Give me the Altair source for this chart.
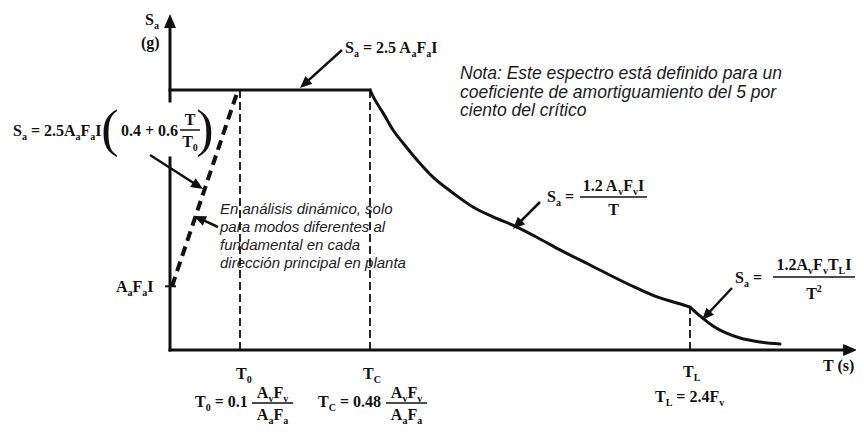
import math
import altair as alt
import pandas as pd

# ---------------- chart values (schematic design spectrum) ----------------
T0, TC, TL = 0.35, 1.00, 2.60          # corner periods (schematic units)
SA_PLATEAU = 1.00                       # 2.5 Aa Fa I
SA_START = 0.245                        # Aa Fa I
T_AXIS_END, SA_AXIS_END = 3.435, 1.292

# descending branch Sa = 1.2 Av Fv I / T
curve_T = [1.000, 1.025, 1.065, 1.115, 1.165, 1.235, 1.315, 1.415, 1.515,
           1.615, 1.735, 1.850, 1.950, 2.100, 2.300, 2.435, 2.585, 2.600]
curve_S = [1.000, 0.962, 0.912, 0.846, 0.796, 0.731, 0.665, 0.604, 0.550,
           0.512, 0.473, 0.427, 0.385, 0.327, 0.250, 0.204, 0.169, 0.165]
# long-period branch Sa = 1.2 Av Fv TL I / T^2
tail_T = [2.600, 2.650, 2.715, 2.850, 2.950, 3.050]
tail_S = [0.165, 0.131, 0.092, 0.046, 0.031, 0.023]

note_lines = ["Nota: Este espectro está definido para un",
              "coeficiente de amortiguamiento del 5 por",
              "ciento del crítico"]
dyn_lines = ["En análisis dinámico, solo",
             "para modos diferentes al",
             "fundamental en cada",
             "dirección principal en planta"]

INK = "#111111"

# ---------------- frame: page pixels <-> (T, Sa) ----------------
W, H, M = 848, 416, 8
PX_T, PX_S = 200.0, 260.0
X_ORG, Y_ORG = 170.0, 350.0
T_DOM = [(M - X_ORG) / PX_T, (M + W - X_ORG) / PX_T]
S_DOM = [(Y_ORG - M - H) / PX_S, (Y_ORG - M) / PX_S]


def tT(px):
    return (px - X_ORG) / PX_T


def tS(py):
    return (Y_ORG - py) / PX_S


def pxX(t):
    return X_ORG + t * PX_T


def pxY(s):
    return Y_ORG - s * PX_S


xs = alt.Scale(domain=T_DOM, nice=False, zero=False)
ys = alt.Scale(domain=S_DOM, nice=False, zero=False)

# ---------------- formula typesetting helpers ----------------
TB = {' ': 250, '(': 333, ')': 333, '+': 570, '.': 250, '=': 570, 'A': 722,
      'C': 722, 'F': 611, 'I': 389, 'L': 667, 'S': 556, 'T': 667, 'a': 500,
      'g': 500, 's': 389, 'v': 500}
FS, FSS = 16, 10
serif_rows = []


def tw(s, fs):
    return sum(TB.get(c, 500) for c in s) * fs / 1000.0


def pfs(r, fs):
    return fs if r == 'n' else FSS


def run_w(pieces, fs=FS):
    return sum(tw(t, pfs(r, fs)) for t, r in pieces)


def place(pieces, x, base, fs=FS):
    for t, r in pieces:
        f = pfs(r, fs)
        dy = {'n': 0, 's': 3.5, 'p': -7}[r]
        lead = len(t) - len(t.lstrip(' '))
        core = t.strip(' ')
        if core:
            serif_rows.append(dict(T=tT(x + tw(' ' * lead, f)), S=tS(base + dy),
                                   txt=core, fs=f))
        x += tw(t, f)
    return x


bars = []


def frac(num, den, cx, bar_y, num_base, den_base, x0, x1):
    place(num, cx - run_w(num) / 2, num_base)
    place(den, cx - run_w(den) / 2, den_base)
    bars.append(dict(T=tT(x0), S=tS(bar_y), T2=tT(x1), S2=tS(bar_y)))


AaFaI = [("A", 'n'), ("a", 's'), ("F", 'n'), ("a", 's'), ("I", 'n')]
AvFv = [("A", 'n'), ("v", 's'), ("F", 'n'), ("v", 's')]
AaFa = [("A", 'n'), ("a", 's'), ("F", 'n'), ("a", 's')]

# axis labels
place([("S", 'n'), ("a", 's')], 145, 25)
place([("(g)", 'n')], 141, 48)
place([("T", 'n'), ("0", 's')], 236, 379)
place([("T", 'n'), ("C", 's')], 363, 379)
place([("T", 'n'), ("L", 's')], 683, 377)
place([("T (s)", 'n')], 823, 371)
place(AaFaI, 116, 292)
# plateau formula
place([("S", 'n'), ("a", 's'), (" = 2.5 A", 'n'), ("a", 's'), ("F", 'n'),
       ("a", 's'), ("I", 'n')], 345, 53)
# ramp formula
place([("S", 'n'), ("a", 's'), (" = 2.5A", 'n'), ("a", 's'), ("F", 'n'),
       ("a", 's'), ("I", 'n')], 13, 136)
place([("0.4 + 0.6", 'n')], 121, 136)
frac([("T", 'n')], [("T", 'n'), ("0", 's')], 190, 130, 125, 147, 180, 200)
parens = [dict(T=tT(110), S=tS(146), txt="("), dict(T=tT(205), S=tS(146), txt=")")]
# period formulas (kept inside the drawing area)
place([("T", 'n'), ("0", 's'), (" = 0.1", 'n')], 195, 407)
frac(AvFv, AaFa, 272.5, 403, 398, 420, 252, 293)
place([("T", 'n'), ("C", 's'), (" = 0.48", 'n')], 318, 407)
frac(AvFv, AaFa, 406.5, 403, 398, 420, 386, 427)
place([("T", 'n'), ("L", 's'), (" = 2.4F", 'n'), ("v", 's')], 655, 402)
# 1/T branch formula
place([("S", 'n'), ("a", 's'), (" =", 'n')], 547, 202)
frac([("1.2 A", 'n'), ("v", 's'), ("F", 'n'), ("v", 's'), ("I", 'n')],
     [("T", 'n')], 613.5, 197, 191, 215, 580, 647)
# 1/T^2 branch formula
place([("S", 'n'), ("a", 's'), (" =", 'n')], 735, 283)
frac([("1.2A", 'n'), ("v", 's'), ("F", 'n'), ("v", 's'), ("T", 'n'), ("L", 's'), ("I", 'n')],
     [("T", 'n'), ("2", 'p')], 814, 277, 270, 299, 773, 855)

df_serif = pd.DataFrame(serif_rows)
df_bars = pd.DataFrame(bars)
df_par = pd.DataFrame(parens)

note_rows = [dict(T=tT(460), S=tS(79 + 18.5 * i), txt=t) for i, t in enumerate(note_lines)]
dyn_rows = [dict(T=tT(220), S=tS(214 + 18 * i), txt=t) for i, t in enumerate(dyn_lines)]

# ---------------- arrows ----------------
HEAD = "M0,-1L0.8,0.85L-0.8,0.85Z"


def head(tail, tip, s):
    dx, dy = tip[0] - tail[0], tip[1] - tail[1]
    L = math.hypot(dx, dy)
    ux, uy = dx / L, dy / L
    cx, cy = tip[0] - ux * s / 2, tip[1] - uy * s / 2
    ang = math.degrees(math.atan2(dx, -dy)) % 360
    return cx, cy, ang


arrows_px = [((342, 50), (300, 88)), ((150, 155), (203, 189)),
             ((218, 227), (194, 216)), ((540, 202), (513, 229)),
             ((732, 288), (702, 320))]
arrow_lines, heads = [], []
for tail, tip in arrows_px:
    cx, cy, ang = head(tail, tip, 13)
    arrow_lines.append(dict(T=tT(tail[0]), S=tS(tail[1]), T2=tT(cx), S2=tS(cy)))
    heads.append(dict(T=tT(cx), S=tS(cy), ang=ang, sz=169))
# axis arrowheads
for tail, tip in [((pxX(0), pxY(0.5)), (pxX(0), pxY(SA_AXIS_END))),
                  ((pxX(1), pxY(0)), (pxX(T_AXIS_END), pxY(0)))]:
    cx, cy, ang = head(tail, tip, 15)
    heads.append(dict(T=tT(cx), S=tS(cy), ang=ang, sz=225))
df_arrow = pd.DataFrame(arrow_lines)
df_heads = pd.DataFrame(heads)

# ---------------- line geometry ----------------
axes = pd.DataFrame([
    dict(T=0, S=0, T2=T_AXIS_END - 12 / PX_T, S2=0),
    dict(T=0, S=0, T2=0, S2=tS(158)),
    dict(T=0, S=tS(101), T2=0, S2=SA_AXIS_END - 12 / PX_S),
    dict(T=0, S=SA_PLATEAU, T2=TC, S2=SA_PLATEAU),
])
dashed = pd.DataFrame([
    dict(T=T0, S=0, T2=T0, S2=SA_PLATEAU),
    dict(T=TC, S=0, T2=TC, S2=SA_PLATEAU),
    dict(T=TL, S=0, T2=TL, S2=curve_S[-1]),
])
ramp = pd.DataFrame([dict(T=0.01, S=SA_START, T2=T0 - 0.01, S2=SA_PLATEAU)])
tick = pd.DataFrame([dict(T=tT(165), S=SA_START, T2=tT(176), S2=SA_START)])
curve = pd.DataFrame(
    [dict(T=t, S=s, seg="a", o=i) for i, (t, s) in enumerate(zip(curve_T, curve_S))] +
    [dict(T=t, S=s, seg="b", o=i) for i, (t, s) in enumerate(zip(tail_T, tail_S))])


def X(f="T"):
    return alt.X(f + ":Q", scale=xs, axis=None)


def Y(f="S"):
    return alt.Y(f + ":Q", scale=ys, axis=None)


def rules(df, **kw):
    return alt.Chart(df).mark_rule(color=INK, **kw).encode(
        x=X(), y=Y(), x2="T2:Q", y2="S2:Q")


layers = [
    alt.Chart(pd.DataFrame(note_rows)).mark_text(
        font="Liberation Sans", fontStyle="italic", fontSize=17.5, align="left",
        baseline="alphabetic", color="#1c1c1c").encode(x=X(), y=Y(), text="txt:N"),
    alt.Chart(pd.DataFrame(dyn_rows)).mark_text(
        font="Liberation Sans", fontStyle="italic", fontSize=15, align="left",
        baseline="alphabetic", color="#1c1c1c").encode(x=X(), y=Y(), text="txt:N"),
    rules(axes, strokeWidth=3, strokeCap="square"),
    rules(dashed, strokeWidth=1.8, strokeDash=[8, 4]),
    rules(ramp, strokeWidth=4, strokeDash=[10, 6]),
    rules(tick, strokeWidth=2),
    alt.Chart(curve).mark_line(color=INK, strokeWidth=3, interpolate="monotone",
                               strokeCap="round").encode(
        x=X(), y=Y(), detail="seg:N", order="o:Q"),
    rules(df_arrow, strokeWidth=2.5),
    alt.Chart(df_heads).mark_point(shape=HEAD, filled=True, color=INK, opacity=1,
                                   strokeWidth=0).encode(
        x=X(), y=Y(), angle=alt.Angle("ang:Q", scale=None),
        size=alt.Size("sz:Q", scale=None)),
    rules(df_bars, strokeWidth=1.5),
    alt.Chart(df_serif).mark_text(font="Liberation Serif", fontWeight="bold",
                                  align="left", baseline="alphabetic", color=INK).encode(
        x=X(), y=Y(), text="txt:N", size=alt.Size("fs:Q", scale=None)),
    alt.Chart(df_par).mark_text(font="Liberation Serif", fontSize=52, align="center",
                                baseline="alphabetic", color=INK).encode(
        x=X(), y=Y(), text="txt:N"),
]

chart = alt.layer(*layers).properties(
    width=W, height=H, padding=0, autosize=alt.AutoSizeParams(type="none"),
    background="white",
).configure_view(stroke=None)

chart.save("out.html", embed_options={"renderer": "svg", "actions": False})
